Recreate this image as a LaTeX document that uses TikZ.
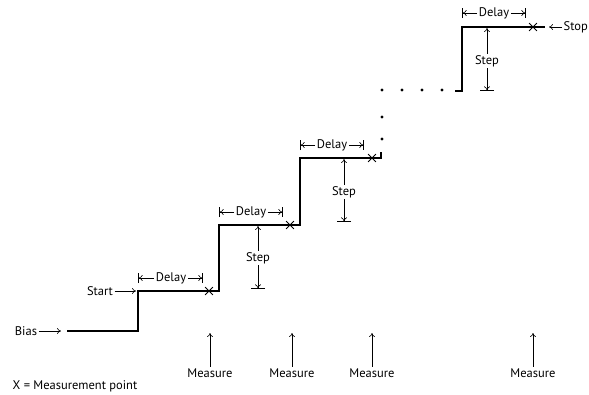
\documentclass[tikz,border=0pt]{standalone}
\usepackage{fontspec}
\setmainfont{PT Sans}
\usetikzlibrary{arrows.meta,positioning,shapes.misc}

\begin{document}
\begin{tikzpicture}[
  x=1pt, y=-1pt,
  font=\fontsize{12.5}{14}\selectfont,
  stair/.style={line width=1.7pt},
  arrow/.style={-{To[length=4pt,width=6pt]}, line width=0.6pt},
  dimarrow/.style={-{To[length=4pt,width=6pt]Bar[width=10pt,sep=0pt]}, line width=0.6pt},
  steparrow/.style={-{To[length=4pt,width=6pt]Bar[width=14pt,sep=0pt]}, line width=0.6pt},
  lbl/.style={inner sep=1.5pt},
  xpoint/.style={cross out, draw, line width=0.8pt, minimum size=7pt, inner sep=0pt}
]
\useasboundingbox (0,0) rectangle (589,394);

% staircase
\coordinate (b0) at (67,331);
\coordinate (s1) at (138,331);
\coordinate (s1t) at (138,291);
\coordinate (s2) at (219,291);
\coordinate (s2t) at (219,225);
\coordinate (s3) at (300,225);
\coordinate (s3t) at (300,158);
\coordinate (s4) at (381,158);
\coordinate (s4t) at (381,152);
\draw[stair] (b0) -- (s1) -- (s1t) -- (s2) -- (s2t) -- (s3) -- (s3t) -- (s4) -- (s4t);
\foreach \p in {(382,139),(382,117),(382,90),(402,90),(422,90),(442,90)}
  \fill \p circle (1.6pt);
\coordinate (s5) at (455,91);
\coordinate (s5c) at (462,91);
\coordinate (s5t) at (462,27);
\coordinate (s6) at (545,27);
\draw[stair] (s5) -- (s5c) -- (s5t) -- (s6);

% measurement points
\node[xpoint] (x1) at (209,291) {};
\node[xpoint] (x2) at (290,225) {};
\node[xpoint] (x3) at (372,158) {};
\node[xpoint] (x4) at (533,27) {};

% bias, start, stop
\node[lbl] (bias) at (26,331) {Bias};
\coordinate (biasend) at (61,331);
\draw[arrow] (bias) -- (biasend);
\node[lbl] (start) at (100,291) {Start};
\coordinate (startend) at (136,291);
\draw[arrow] (start) -- (startend);
\node[lbl, anchor=west] (stop) at (562,27) {Stop};
\coordinate (stopend) at (549,27);
\draw[arrow] (stop) -- (stopend);

% delays
\node[lbl] (d1) at (171,278) {Delay};
\coordinate (d1l) at (138,278);
\coordinate (d1r) at (203,278);
\draw[dimarrow] (d1) -- (d1l);
\draw[dimarrow] (d1) -- (d1r);
\node[lbl] (d2) at (251,212) {Delay};
\coordinate (d2l) at (219,212);
\coordinate (d2r) at (283,212);
\draw[dimarrow] (d2) -- (d2l);
\draw[dimarrow] (d2) -- (d2r);
\node[lbl] (d3) at (332,145) {Delay};
\coordinate (d3l) at (300,145);
\coordinate (d3r) at (364,145);
\draw[dimarrow] (d3) -- (d3l);
\draw[dimarrow] (d3) -- (d3r);
\node[lbl] (d4) at (494,13) {Delay};
\coordinate (d4l) at (462,13);
\coordinate (d4r) at (526,13);
\draw[dimarrow] (d4) -- (d4l);
\draw[dimarrow] (d4) -- (d4r);

% steps
\node[lbl] (st1) at (258,258) {Step};
\coordinate (st1t) at (258,226);
\coordinate (st1b) at (258,289);
\draw[arrow] (st1) -- (st1t);
\draw[steparrow] (st1) -- (st1b);
\node[lbl] (st2) at (344,192) {Step};
\coordinate (st2t) at (344,159);
\coordinate (st2b) at (344,222);
\draw[arrow] (st2) -- (st2t);
\draw[steparrow] (st2) -- (st2b);
\node[lbl] (st3) at (487,61) {Step};
\coordinate (st3t) at (487,28);
\coordinate (st3b) at (487,91);
\draw[arrow] (st3) -- (st3t);
\draw[steparrow] (st3) -- (st3b);

% measure
\node[lbl] (m1) at (210,373) {Measure};
\coordinate (m1t) at (210,333);
\draw[arrow] (m1) -- (m1t);
\node[lbl] (m2) at (292,373) {Measure};
\coordinate (m2t) at (292,333);
\draw[arrow] (m2) -- (m2t);
\node[lbl] (m3) at (372,373) {Measure};
\coordinate (m3t) at (372,333);
\draw[arrow] (m3) -- (m3t);
\node[lbl] (m4) at (533,373) {Measure};
\coordinate (m4t) at (533,333);
\draw[arrow] (m4) -- (m4t);

\node[lbl, anchor=west] (legend) at (11,386) {X = Measurement point};
\end{tikzpicture}
\end{document}
